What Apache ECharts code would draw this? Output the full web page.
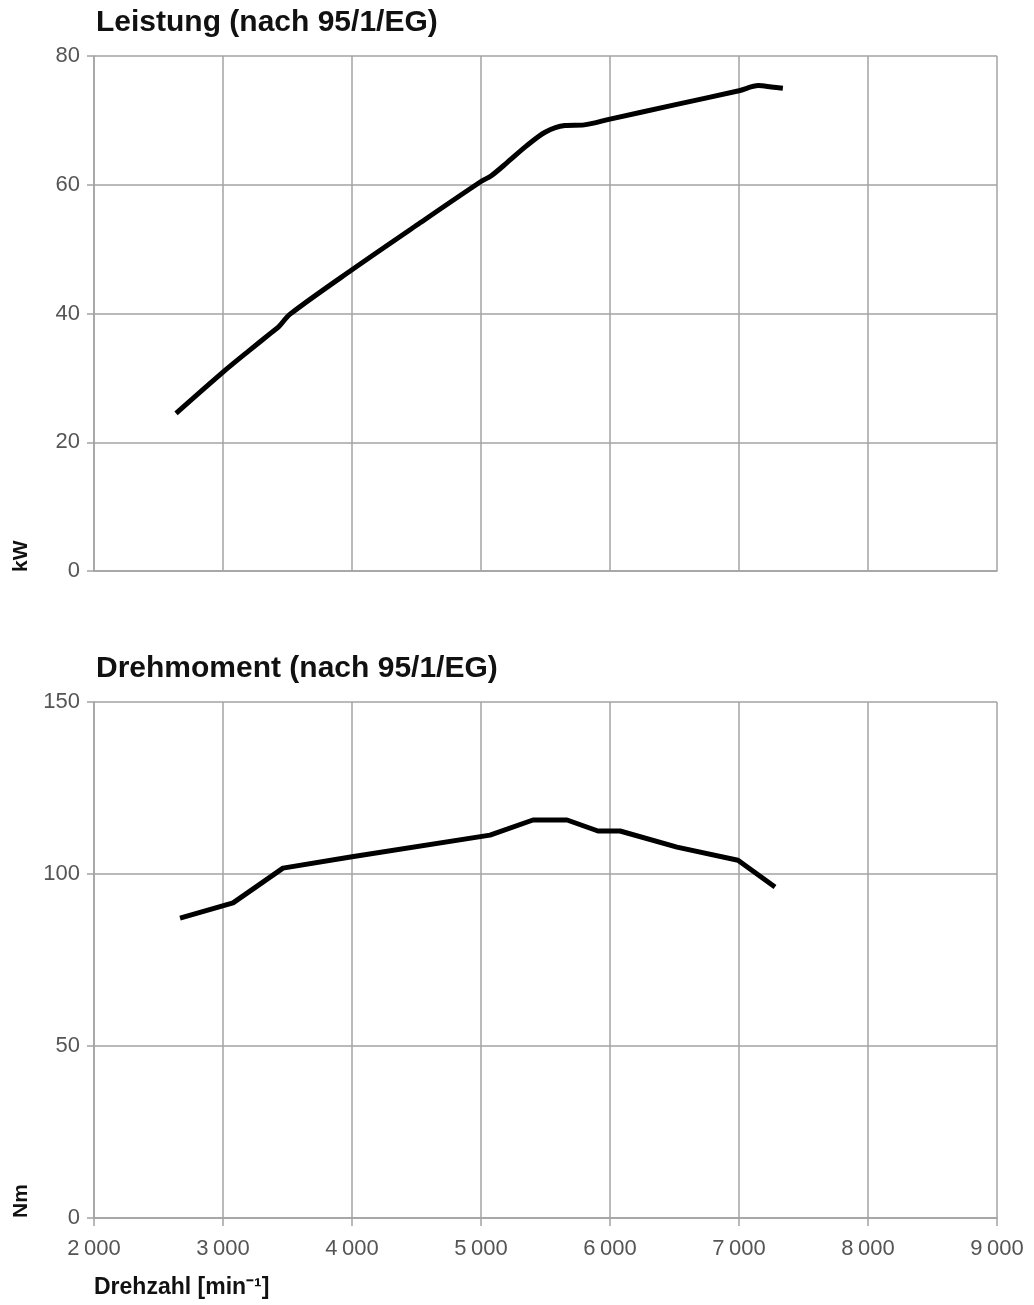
<!DOCTYPE html>
<html><head><meta charset="utf-8">
<script src="https://cdn.jsdelivr.net/npm/echarts@6/dist/echarts.min.js"></script>
<style>html,body{margin:0;padding:0;background:#fff}#c{width:1034px;height:1305px}</style>
</head><body><div id="c"></div>
<script>
const powerRpm = [2636, 3000, 3200, 3380, 3430, 3520, 4000, 4500, 5000, 5080, 5200, 5350, 5500, 5650, 5800, 6000, 6500, 7000, 7150, 7250, 7340];
const powerKw  = [24.5, 30.9, 34.2, 37.1, 37.9, 39.9, 46.8, 53.7, 60.5, 61.4, 63.4, 66.0, 68.2, 69.2, 69.3, 70.2, 72.4, 74.6, 75.4, 75.2, 75.0];
const torqueRpm = [2667, 3078, 3465, 4000, 5070, 5403, 5667, 5907, 6078, 6519, 6992, 7279];
const torqueNm  = [87.2, 91.6, 101.7, 105.0, 111.3, 115.7, 115.7, 112.5, 112.5, 107.8, 104.0, 96.2];
const xTicks = [2000, 3000, 4000, 5000, 6000, 7000, 8000, 9000];
const powerTicks = [0, 20, 40, 60, 80];
const torqueTicks = [0, 50, 100, 150];

const grey = '#a3a3a3';
const labelFont = {color: '#555', fontSize: 22, fontFamily: 'Liberation Sans, Arial, sans-serif'};
const boldFont = 'Liberation Sans, Arial, sans-serif';

function xAx(idx, showLabels) {
  return {
    type: 'value', gridIndex: idx, min: xTicks[0], max: xTicks[xTicks.length-1], interval: 1000,
    axisLine: {show: true, lineStyle: {color: grey, width: 1.5}},
    axisTick: {show: showLabels, length: 8, lineStyle: {color: grey, width: 1.5}},
    axisLabel: {show: showLabels, margin: 20, ...labelFont,
      formatter: v => { const s = String(v); return s.slice(0, s.length-3) + '\u2009' + s.slice(-3); }},
    splitLine: {show: true, lineStyle: {color: grey, width: 1.5}}
  };
}
function yAx(idx, ticks) {
  return {
    type: 'value', gridIndex: idx, min: ticks[0], max: ticks[ticks.length-1], interval: ticks[1]-ticks[0],
    axisLine: {show: true, lineStyle: {color: grey, width: 1.5}},
    axisTick: {show: true, length: 7, lineStyle: {color: grey, width: 1.5}},
    axisLabel: {show: true, margin: 14, ...labelFont},
    splitLine: {show: true, lineStyle: {color: grey, width: 1.5}}
  };
}

const chart = echarts.init(document.getElementById('c'), null, {renderer: 'canvas'});
chart.setOption({
  animation: false,
  backgroundColor: '#fff',
  title: [
    {text: 'Leistung (nach 95/1/EG)', left: 91, top: 3, textStyle: {fontSize: 30, fontWeight: 'bold', color: '#111', fontFamily: boldFont}},
    {text: 'Drehmoment (nach 95/1/EG)', left: 91, top: 649, textStyle: {fontSize: 30, fontWeight: 'bold', color: '#111', fontFamily: boldFont}}
  ],
  grid: [
    {left: 94, right: 37, top: 56, height: 515},
    {left: 94, right: 37, top: 702, height: 516}
  ],
  xAxis: [xAx(0, false), xAx(1, true)],
  yAxis: [yAx(0, powerTicks), yAx(1, torqueTicks)],
  graphic: [
    {type: 'text', x: 11, y: 572, rotation: Math.PI/2, style: {text: 'kW', fontSize: 21, fontWeight: 'bold', fill: '#111', fontFamily: boldFont, align: 'left', verticalAlign: 'top'}},
    {type: 'text', x: 11, y: 1218, rotation: Math.PI/2, style: {text: 'Nm', fontSize: 21, fontWeight: 'bold', fill: '#111', fontFamily: boldFont, align: 'left', verticalAlign: 'top'}},
    {type: 'text', x: 94, y: 1276, style: {text: 'Drehzahl [min\u207B\u00B9]', fontSize: 23, fontWeight: 'bold', fill: '#111', fontFamily: boldFont}}
  ],
  series: [
    {type: 'line', xAxisIndex: 0, yAxisIndex: 0, data: powerRpm.map((r,i)=>[r, powerKw[i]]),
     showSymbol: false, smooth: 0.3, lineStyle: {color: '#000', width: 5}},
    {type: 'line', xAxisIndex: 1, yAxisIndex: 1, data: torqueRpm.map((r,i)=>[r, torqueNm[i]]),
     showSymbol: false, smooth: false, lineStyle: {color: '#000', width: 5}}
  ]
});
</script></body></html>
